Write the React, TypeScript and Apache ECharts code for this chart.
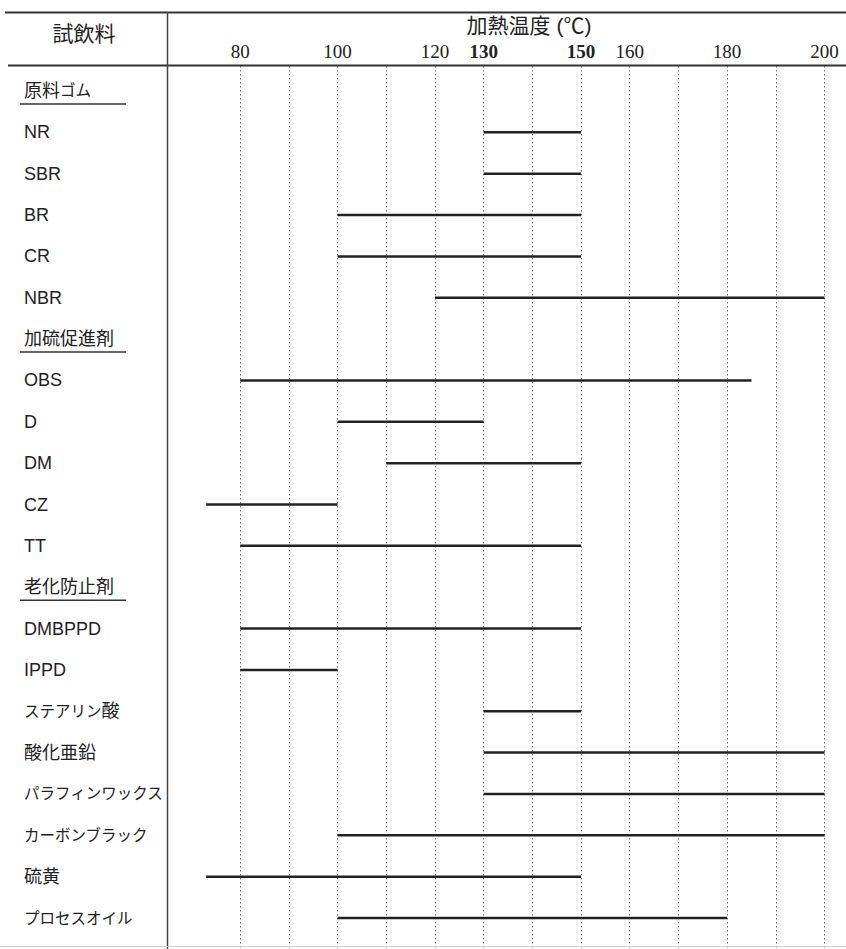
import React, { useEffect, useRef } from "react";
import * as echarts from "echarts";

const categories = [
  "原料ゴム", "NR", "SBR", "BR", "CR", "NBR",
  "加硫促進剤", "OBS", "D", "DM", "CZ", "TT",
  "老化防止剤", "DMBPPD", "IPPD", "ステアリン酸", "酸化亜鉛",
  "パラフィンワックス", "カーボンブラック", "硫黄", "プロセスオイル",
];
const groupHeaders = ["原料ゴム", "加硫促進剤", "老化防止剤"];
const rangeStart: (number | null)[] = [
  null, 130, 130, 100, 100, 120,
  null, 80, 100, 110, 73, 80,
  null, 80, 80, 130, 130, 130, 100, 73, 100,
];
const rangeEnd: (number | null)[] = [
  null, 150, 150, 150, 150, 200,
  null, 185, 130, 150, 100, 150,
  null, 150, 100, 150, 200, 200, 200, 150, 180,
];
const labeledTicks = [80, 100, 120, 130, 150, 160, 180, 200];
const boldTicks = [130, 150];
const axisTitle = "加熱温度 (℃)";
const columnTitle = "試飲料";

const W = 846;
const H = 949;
const GRID_LEFT = 191.5;
const GRID_RIGHT = 21.5;
const ROW_TOP = 70.3;
const ROW_BOTTOM = 10.3;
const LABEL_X = 24;
const sansFont = "'Liberation Sans', 'Noto Sans CJK JP', sans-serif";
const serifFont = "'Liberation Serif', 'DejaVu Serif', serif";

export default function App() {
  const ref = useRef<HTMLDivElement>(null);

  useEffect(() => {
    if (!ref.current) return;
    const chart = echarts.init(ref.current, undefined, { renderer: "svg" });

    const data = categories
      .map((c, i) =>
        rangeStart[i] == null ? null : { name: c, value: [rangeStart[i], i, rangeEnd[i]] }
      )
      .filter((d) => d != null);

    const option: any = {
      animation: false,
      backgroundColor: "#ffffff",
      grid: [
        { left: GRID_LEFT, right: GRID_RIGHT, top: ROW_TOP, bottom: ROW_BOTTOM },
        { left: GRID_LEFT, right: GRID_RIGHT, top: 66, bottom: 0 },
      ],
      xAxis: [
        {
          gridIndex: 0,
          type: "value",
          min: 70,
          max: 200,
          interval: 10,
          axisLine: { show: false },
          axisTick: { show: false },
          axisLabel: { show: false },
          splitLine: { show: false },
        },
        {
          gridIndex: 1,
          type: "value",
          position: "top",
          min: 70,
          max: 200,
          interval: 10,
          axisLine: { show: false },
          axisTick: { show: false },
          axisLabel: {
            margin: 5,
            formatter: (v: number) =>
              labeledTicks.includes(v)
                ? boldTicks.includes(v)
                  ? `{b|${v}}`
                  : `{n|${v}}`
                : "",
            rich: {
              n: { fontFamily: serifFont, fontSize: 19, color: "#222" },
              b: { fontFamily: serifFont, fontSize: 19, fontWeight: "bold", color: "#222" },
            },
          },
          splitLine: {
            show: true,
            showMinLine: false,
            lineStyle: { color: "#777", width: 1, type: [1.5, 2.5] },
          },
        },
      ],
      yAxis: [
        {
          gridIndex: 0,
          type: "category",
          inverse: true,
          data: categories,
          axisLine: { show: false },
          axisTick: { show: false },
          splitLine: { show: false },
          axisLabel: {
            align: "left",
            margin: GRID_LEFT - LABEL_X,
            formatter: (v: string) =>
              v.replace(/([\u30A0-\u30FF]+)|([^\u30A0-\u30FF]+)/g, (m: string, kana: string) =>
                kana ? `{p|${m}}` : `{k|${m}}`
              ),
            rich: {
              k: { fontFamily: sansFont, fontSize: 18, color: "#222" },
              p: { fontFamily: sansFont, fontSize: 15.5, color: "#222" },
            },
          },
        },
        {
          gridIndex: 1,
          type: "value",
          min: 0,
          max: 1,
          show: false,
        },
      ],
      series: [
        {
          type: "custom",
          xAxisIndex: 0,
          yAxisIndex: 0,
          encode: { x: [0, 2], y: 1 },
          data,
          renderItem: (params: any, api: any) => {
            const p1 = api.coord([api.value(0), api.value(1)]);
            const p2 = api.coord([api.value(2), api.value(1)]);
            return {
              type: "line",
              shape: { x1: p1[0], y1: p1[1], x2: p2[0], y2: p2[1] },
              style: { stroke: "#222", lineWidth: 2.5 },
            };
          },
        },
      ],
    };

    chart.setOption(option);

    const frame: any[] = [
      { type: "line", shape: { x1: 5, y1: 12.5, x2: W, y2: 12.5 }, style: { stroke: "#333", lineWidth: 2 } },
      { type: "line", shape: { x1: 8, y1: 65.5, x2: W, y2: 65.5 }, style: { stroke: "#333", lineWidth: 2 } },
      { type: "line", shape: { x1: 167.5, y1: 12, x2: 167.5, y2: H }, style: { stroke: "#444", lineWidth: 1.5 } },
      { type: "line", shape: { x1: 0, y1: 946.5, x2: W, y2: 946.5 }, style: { stroke: "#d0d0d0", lineWidth: 1 } },
      {
        type: "text",
        x: 84,
        y: 33,
        style: {
          text: columnTitle,
          fontFamily: sansFont,
          fontSize: 21,
          fill: "#222",
          align: "center",
          verticalAlign: "middle",
        },
      },
      {
        type: "text",
        x: 529,
        y: 25,
        style: {
          text: axisTitle,
          fontFamily: sansFont,
          fontSize: 21,
          fill: "#222",
          align: "center",
          verticalAlign: "middle",
        },
      },
    ];
    const underlines = groupHeaders.map((g) => {
      const y = chart.convertToPixel({ yAxisIndex: 0 }, g) as number;
      return {
        type: "line",
        shape: { x1: 20, y1: y + 13, x2: 126, y2: y + 13 },
        style: { stroke: "#333", lineWidth: 1.5 },
      };
    });
    chart.setOption({ graphic: [...frame, ...underlines] });

    return () => chart.dispose();
  }, []);

  return (
    <div
      ref={ref}
      style={{ position: "absolute", left: 0, top: 0, width: W, height: H, background: "#fff" }}
    />
  );
}
